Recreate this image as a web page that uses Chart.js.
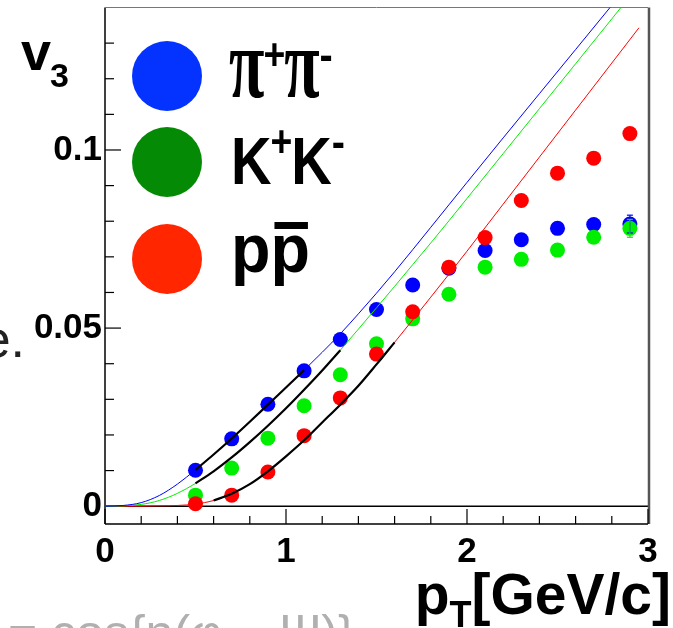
<!DOCTYPE html>
<html>
<head>
<meta charset="utf-8">
<script src="https://cdn.jsdelivr.net/npm/chart.js@4.4.1/dist/chart.umd.min.js"></script>
<style>
  html, body { margin: 0; padding: 0; background: #fff; }
  canvas { display: block; }
</style>
</head>
<body>
<canvas id="v3Chart" width="673" height="628"></canvas>
<script>
const ptBins   = [0.5, 0.7, 0.9, 1.1, 1.3, 1.5, 1.7, 1.9, 2.1, 2.3, 2.5, 2.7, 2.9];
const pionV3   = [0.0101, 0.0189, 0.0286, 0.0380, 0.0468, 0.0552, 0.0621, 0.0668, 0.0718, 0.0748, 0.0780, 0.0791, 0.0792];
const kaonV3   = [0.0031, 0.0107, 0.0191, 0.0282, 0.0369, 0.0456, 0.0526, 0.0595, 0.0671, 0.0693, 0.0719, 0.0755, 0.0780];
const protonV3 = [0.0007, 0.0031, 0.0096, 0.0198, 0.0304, 0.0427, 0.0546, 0.0671, 0.0754, 0.0858, 0.0935, 0.0977, 0.1046];
const pionErr   = [0, 0, 0, 0, 0, 0, 0, 0, 0, 0, 0, 0, 0.0025];
const kaonErr   = [0, 0, 0, 0, 0, 0, 0, 0, 0, 0, 0, 0, 0.0025];

// fit curves
const curvePt    = [0, 0.1, 0.2, 0.3, 0.4, 0.5, 0.6, 0.7, 0.8, 0.9, 1.0, 1.1, 1.2, 1.3, 1.4, 1.5, 1.6, 1.7, 1.8, 1.9, 2.0, 2.2, 2.4, 2.6, 2.8, 2.95];
const pionCurve   = [0, 0.0002, 0.0010, 0.0030, 0.0062, 0.0102, 0.0145, 0.0190, 0.0237, 0.0285, 0.0333, 0.0382, 0.0432, 0.0484, 0.0540, 0.0598, 0.0658, 0.0720, 0.0783, 0.0846, 0.0909, 0.1034, 0.1158, 0.1282, 0.1406, 0.1499];
const kaonCurve   = [0, 0.0001, 0.0005, 0.0016, 0.0036, 0.0064, 0.0098, 0.0137, 0.0180, 0.0226, 0.0275, 0.0327, 0.0381, 0.0438, 0.0497, 0.0557, 0.0617, 0.0678, 0.0739, 0.0801, 0.0864, 0.0990, 0.1116, 0.1242, 0.1368, 0.1463];
const protonCurve = [0, 0, 0, 0.0001, 0.0002, 0.0006, 0.0016, 0.0035, 0.0062, 0.0098, 0.0140, 0.0185, 0.0235, 0.0285, 0.0338, 0.0398, 0.0460, 0.0523, 0.0587, 0.0651, 0.0716, 0.0848, 0.0980, 0.1112, 0.1244, 0.1343];
// pT range where each fit was done (drawn black)
const pionFitRange   = [0.5, 1.1];
const kaonFitRange   = [0.5, 1.3];
const protonFitRange = [0.6, 1.6];

const xTicks = [0, 1, 2, 3];
const yTicks = [0, 0.05, 0.1];
const yTickLabels = ["0", "0.05", "0.1"];

const FONT = "'Liberation Sans', Arial, sans-serif";
const colBlue = "#0000ff", colGreen = "#00ee00", colRed = "#ff0000";

const pts = (xs, ys) => xs.map((x, i) => ({ x, y: ys[i] }));
const fitPart = (ys, r) => pts(curvePt, ys).filter(p => p.x >= r[0] - 1e-9 && p.x <= r[1] + 1e-9);

function line(ctx, x1, y1, x2, y2) {
  ctx.beginPath(); ctx.moveTo(x1, y1); ctx.lineTo(x2, y2); ctx.stroke();
}

// glyph drawn with a stretch, returns its advance
function stretched(ctx, txt, x, y, font, sx, sy) {
  ctx.save();
  ctx.font = font;
  ctx.translate(x, y);
  ctx.scale(sx, sy);
  ctx.fillText(txt, 0, 0);
  const w = ctx.measureText(txt).width * sx;
  ctx.restore();
  return w;
}

// frame, y=0 line and inward ROOT-style ticks
const framePlugin = {
  id: "frame",
  beforeDatasetsDraw(chart) {
    const { ctx, chartArea: a, scales: { x, y } } = chart;
    ctx.save();
    ctx.strokeStyle = "#000";
    ctx.lineWidth = 1.5;
    const y0 = y.getPixelForValue(0);
    line(ctx, a.left, y0, a.right, y0);
    line(ctx, a.left, a.top, a.left, a.bottom);
    line(ctx, a.left, a.bottom, a.right, a.bottom);
    ctx.strokeStyle = "#777";
    ctx.lineWidth = 1;
    line(ctx, a.left, a.top, a.right, a.top);
    ctx.strokeStyle = "#555";
    ctx.lineWidth = 2.5;
    line(ctx, a.right + 1, a.top, a.right + 1, a.bottom);
    // ticks
    ctx.strokeStyle = "#000";
    ctx.lineWidth = 1.2;
    for (let i = 0; i <= 15; i++) {
      const px = x.getPixelForValue(i * 0.2);
      const len = i % 5 === 0 ? 15 : 8;
      line(ctx, px, a.bottom, px, a.bottom - len);
    }
    for (let i = 0; i <= 13; i++) {
      const py = y.getPixelForValue(i * 0.01);
      const len = i % 5 === 0 ? 16 : 9;
      line(ctx, a.left, py, a.left + len, py);
    }
    ctx.restore();
  },
  afterDatasetsDraw(chart) {
    const { ctx, scales: { x, y } } = chart;
    ctx.save();
    ctx.lineWidth = 1.2;
    [[pionV3, pionErr, colBlue], [kaonV3, kaonErr, colGreen]].forEach(([vals, errs, c]) => {
      ctx.strokeStyle = c;
      vals.forEach((v, i) => {
        if (!errs[i]) return;
        const px = x.getPixelForValue(ptBins[i]);
        const top = y.getPixelForValue(v + errs[i]);
        const bot = y.getPixelForValue(v - errs[i]);
        line(ctx, px, top, px, bot);
        line(ctx, px - 3, top, px + 3, top);
        line(ctx, px - 3, bot, px + 3, bot);
      });
    });
    ctx.restore();
  }
};

// legend, axis titles and the bits of slide text around the plot
const textPlugin = {
  id: "texts",
  afterDraw(chart) {
    const { ctx } = chart;
    ctx.save();
    ctx.fillStyle = "#000";
    ctx.textBaseline = "alphabetic";

    // v3
    ctx.font = "bold 54px " + FONT;
    ctx.fillText("v", 21, 70);
    ctx.font = "bold 34px " + FONT;
    ctx.fillText("3", 50, 87);

    // legend circles
    const legend = [["#0433ff", 76], ["#058a05", 162], ["#ff2600", 259]];
    legend.forEach(([c, cy]) => {
      ctx.fillStyle = c;
      ctx.beginPath();
      ctx.ellipse(167, cy, 35, 35, 0, 0, Math.PI * 2);
      ctx.fill();
    });
    ctx.fillStyle = "#000";
    const piF = "bold 68px 'Liberation Serif', serif";
    const supF = "bold 44px " + FONT;
    // pi+ pi-
    let xx = 229;
    xx += stretched(ctx, "π", xx, 97, piF, 0.95, 1.45);
    xx += stretched(ctx, "+", xx - 1, 70, supF, 0.85, 1) - 2;
    xx += stretched(ctx, "π", xx, 97, piF, 0.95, 1.45);
    stretched(ctx, "-", xx, 70, supF, 0.9, 1);
    // K+ K-
    const kF = "bold 66px " + FONT;
    xx = 231;
    xx += stretched(ctx, "K", xx, 184, kF, 0.85, 1);
    xx += stretched(ctx, "+", xx - 1, 157, supF, 0.85, 1) - 2;
    xx += stretched(ctx, "K", xx, 184, kF, 0.85, 1);
    stretched(ctx, "-", xx, 157, supF, 0.9, 1);
    // p pbar
    xx = 231;
    const pw = stretched(ctx, "p", xx, 272, "bold 68px " + FONT, 0.95, 1);
    xx += pw;
    stretched(ctx, "p", xx, 272, "bold 68px " + FONT, 0.95, 1);
    ctx.fillRect(xx + 4, 222, pw - 6, 7);

    // x axis title
    const mainF = "bold 57px " + FONT, subF = "bold 36px " + FONT;
    ctx.font = mainF;
    const wP = ctx.measureText("p").width, wRest = ctx.measureText("[GeV/c]").width;
    ctx.font = subF;
    const wT = ctx.measureText("T").width;
    let tx = 671 - (wP + wT + wRest);
    ctx.font = mainF; ctx.fillText("p", tx, 614); tx += wP;
    ctx.font = subF; ctx.fillText("T", tx, 627); tx += wT;
    ctx.font = mainF; ctx.fillText("[GeV/c]", tx, 614);

    // cropped slide text
    ctx.fillStyle = "#222";
    ctx.font = "52px " + FONT;
    ctx.textAlign = "right";
    ctx.fillText("e.", 25, 357);
    ctx.textAlign = "left";
    ctx.fillStyle = "#b0b0b0";
    ctx.font = "50px " + FONT;
    ctx.fillText("= cos{n(φ − Ψ)}", 8, 650);
    ctx.restore();
  }
};

new Chart(document.getElementById("v3Chart"), {
  type: "scatter",
  data: {
    datasets: [
      { data: fitPart(pionCurve, pionFitRange), showLine: true, borderColor: "#000", borderWidth: 2.2, pointRadius: 0, cubicInterpolationMode: "monotone", order: -1 },
      { data: fitPart(kaonCurve, kaonFitRange), showLine: true, borderColor: "#000", borderWidth: 2.2, pointRadius: 0, cubicInterpolationMode: "monotone", order: -1 },
      { data: fitPart(protonCurve, protonFitRange), showLine: true, borderColor: "#000", borderWidth: 2.2, pointRadius: 0, cubicInterpolationMode: "monotone", order: -1 },
      { data: pts(curvePt, pionCurve), showLine: true, borderColor: colBlue, borderWidth: 1, pointRadius: 0, cubicInterpolationMode: "monotone", order: 0 },
      { data: pts(curvePt, kaonCurve), showLine: true, borderColor: colGreen, borderWidth: 1, pointRadius: 0, cubicInterpolationMode: "monotone", order: 0 },
      { data: pts(curvePt, protonCurve), showLine: true, borderColor: colRed, borderWidth: 1, pointRadius: 0, cubicInterpolationMode: "monotone", order: 0 },
      { label: "π+π-", data: pts(ptBins, pionV3), pointRadius: 7.5, pointBackgroundColor: colBlue, pointBorderWidth: 0, order: 3 },
      { label: "K+K-", data: pts(ptBins, kaonV3), pointRadius: 7.5, pointBackgroundColor: colGreen, pointBorderWidth: 0, order: 2 },
      { label: "pp̄", data: pts(ptBins, protonV3), pointRadius: 7.5, pointBackgroundColor: colRed, pointBorderWidth: 0, order: 1 }
    ]
  },
  options: {
    responsive: false,
    animation: false,
    events: [],
    layout: { padding: { left: 0, right: 25, top: 6, bottom: 0 } },
    plugins: { legend: { display: false }, tooltip: { enabled: false } },
    scales: {
      x: {
        type: "linear", min: 0, max: 3,
        afterBuildTicks: s => { s.ticks = xTicks.map(v => ({ value: v })); },
        afterFit: s => { s.height = 104; s.paddingLeft = 0; s.paddingRight = 0; },
        grid: { display: false, drawTicks: false },
        border: { display: false },
        ticks: { color: "#000", padding: 7, maxRotation: 0, font: { family: FONT, size: 35, weight: "bold" } }
      },
      y: {
        type: "linear", min: -0.005, max: 0.14,
        afterBuildTicks: s => { s.ticks = yTicks.map(v => ({ value: v })); },
        afterFit: s => { s.width = 105; s.paddingTop = 0; s.paddingBottom = 0; },
        grid: { display: false, drawTicks: false },
        border: { display: false },
        ticks: {
          color: "#000", padding: 3, font: { family: FONT, size: 35, weight: "bold" },
          callback: v => yTickLabels[yTicks.indexOf(v)] ?? ""
        }
      }
    }
  },
  plugins: [framePlugin, textPlugin]
});
</script>
</body>
</html>
